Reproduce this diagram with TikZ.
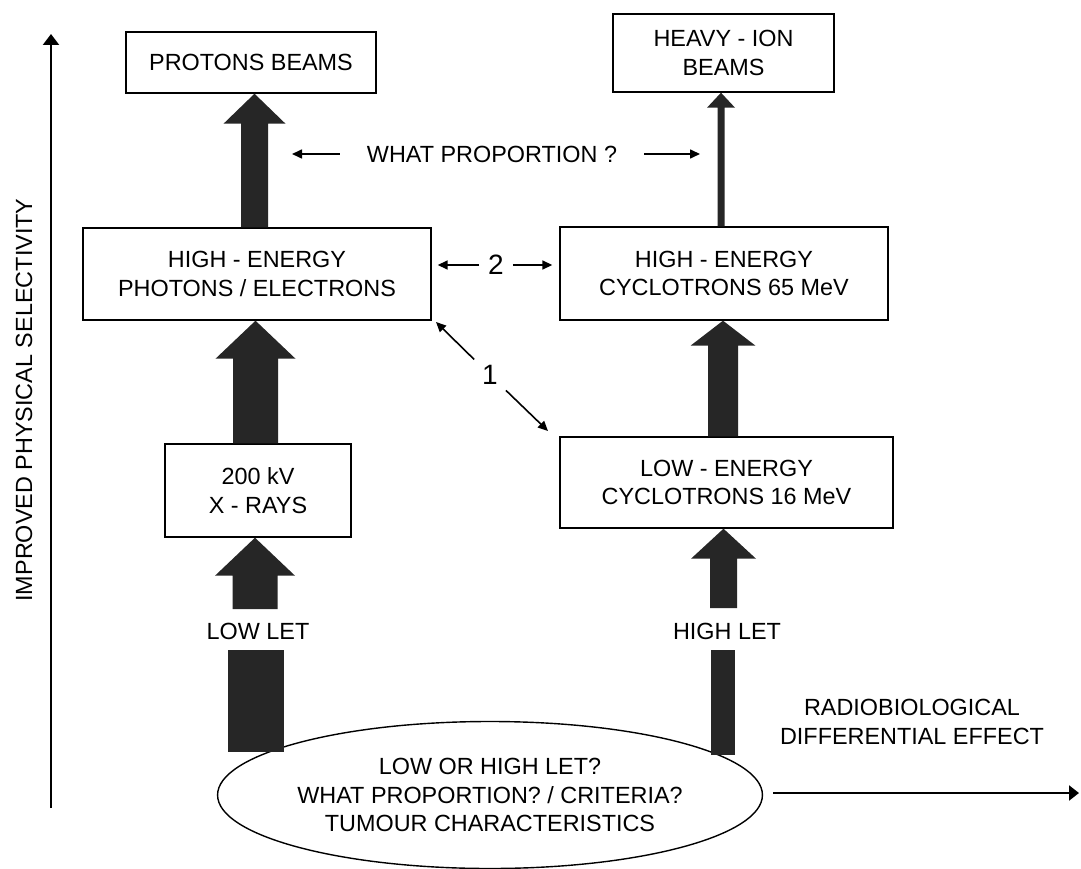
\documentclass[tikz,border=0pt]{standalone}
\usepackage{fontspec}
\setmainfont{Liberation Sans}
\usetikzlibrary{arrows.meta,shapes.geometric,calc}
\newcommand\fatarrow[6]{% #1 from, #2 to, #3 x centre, #4 shaft half width, #5 head half width, #6 head length
  \fill[fatfill] let \p1=(#1), \p2=(#2) in
    ({(#3-#4)*1pt},\y1) -- ({(#3-#4)*1pt},{\y2-#6*1pt}) -- ({(#3-#5)*1pt},{\y2-#6*1pt})
    -- ({#3*1pt},\y2) -- ({(#3+#5)*1pt},{\y2-#6*1pt}) -- ({(#3+#4)*1pt},{\y2-#6*1pt})
    -- ({(#3+#4)*1pt},\y1) -- cycle;}
\begin{document}
\begin{tikzpicture}[x=1pt,y=-1pt,
  txt/.style={font=\fontsize{23.4}{28.5}\selectfont, align=center, text=black},
  box/.style={txt, draw, line width=1.4pt, inner sep=0pt},
  fatfill/.style={fill=black!85},
  thinarr/.style={line width=1.6pt, -{Triangle[length=10pt,width=9pt]}},
  axisarr/.style={line width=2.2pt, -{Triangle[length=11pt,width=16pt]}},
  bignum/.style={font=\fontsize{28}{30}\selectfont}
]
\fill[white] (0,0) rectangle (1081,869);
\useasboundingbox (0,0) rectangle (1081,869);

% boxes
\node[box, minimum width=250pt, minimum height=61pt] (pb) at (251,62.5) {PROTONS BEAMS};
\node[box, minimum width=221pt, minimum height=78pt] (hi) at (723.5,53) {HEAVY - ION\\BEAMS};
\node[box, minimum width=348pt, minimum height=92pt] (hep) at (257,274) {HIGH - ENERGY\\PHOTONS / ELECTRONS};
\node[box, minimum width=328pt, minimum height=93pt] (hec) at (724,273.5) {HIGH - ENERGY\\CYCLOTRONS 65 MeV};
\node[box, minimum width=186pt, minimum height=93pt] (xr) at (258,490.5) {200 kV\\X - RAYS};
\node[box, minimum width=333pt, minimum height=91pt] (lec) at (726.5,482.5) {LOW - ENERGY\\CYCLOTRONS 16 MeV};

% LET labels and tumour ellipse
\node[txt] (lowlet) at (258,631) {LOW LET};
\node[txt] (highlet) at (727,631) {HIGH LET};
\node[txt, draw, ellipse, line width=1.4pt, minimum width=504pt, minimum height=147pt, inner sep=0pt] (tum) at (490,795)
  {LOW OR HIGH LET?\\WHAT PROPORTION? / CRITERIA?\\TUMOUR CHARACTERISTICS};

% fat arrows, left column
\fatarrow{hep.north}{pb.south}{254.5}{13.5}{31}{30}
\fatarrow{xr.north}{hep.south}{255.5}{22.5}{40}{38}
\coordinate (lb) at (255,609);
\fatarrow{lb}{xr.south}{255}{22.5}{40}{38}
\fill[fatfill] (228,650) rectangle (284,752);

% fat arrows, right column
\fatarrow{hec.north}{hi.south}{721}{3.5}{14}{15}
\fatarrow{lec.north}{hec.south}{723}{15}{32.5}{25}
\coordinate (rb) at (723.5,608);
\fatarrow{rb}{lec.south}{723.5}{13.5}{32.5}{30}
\fill[fatfill] (711,650) rectangle (735,755);

% what proportion
\node[txt, inner xsep=27pt] (wp) at (492,154) {WHAT PROPORTION ?};
\coordinate (wpl) at (292,154);
\coordinate (wpr) at (700,154);
\draw[thinarr] (wp.west) -- (wpl);
\draw[thinarr] (wp.east) -- (wpr);

% 2
\node[bignum, inner xsep=9pt] (two) at (496,265) {2};
\draw[thinarr, shorten >=6pt] (two.west) -- (two.west -| hep.east);
\draw[thinarr, shorten >=7pt] (two.east) -- (two.east -| hec.west);

% 1
\node[bignum, circle, minimum size=44pt, inner sep=0pt] (one) at (490,375) {1};
\coordinate (d1) at (436,322);
\coordinate (d2) at (548,431);
\draw[thinarr] (one) -- (d1);
\draw[thinarr] (one) -- (d2);

% axes
\coordinate (v0) at (51,808);
\coordinate (v1) at (51,34);
\draw[axisarr] (v0) -- (v1);
\node[txt, rotate=90] (vlab) at (24,400) {IMPROVED PHYSICAL SELECTIVITY};
\coordinate (h0) at (773,793);
\coordinate (h1) at (1079,793);
\draw[line width=2.2pt, -{Triangle[length=10pt,width=15pt]}] (h0) -- (h1);
\node[txt] (hlab) at (912,722) {RADIOBIOLOGICAL\\DIFFERENTIAL EFFECT};
\end{tikzpicture}
\end{document}
